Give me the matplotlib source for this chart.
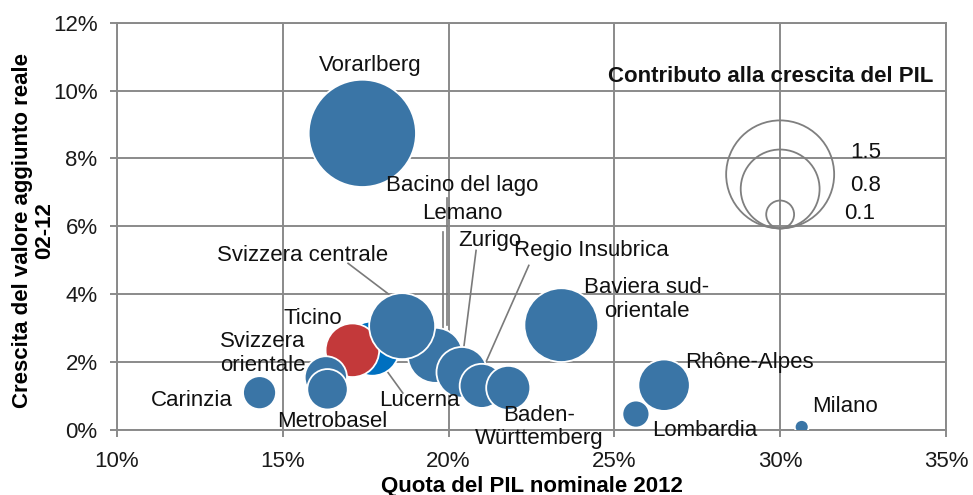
import matplotlib
matplotlib.use("Agg")
import matplotlib.pyplot as plt
from matplotlib.ticker import FuncFormatter, MultipleLocator
from matplotlib.transforms import offset_copy
import numpy as np

plt.rcParams['font.family'] = ['Liberation Sans', 'DejaVu Sans']

# data (drawing order = list order)
regioni = ["Lucerna", "Ticino", "Bacino del lago", "Lemano", "Svizzera centrale",
           "Zurigo", "Regio Insubrica", "Baden-Württemberg", "Svizzera orientale",
           "Metrobasel", "Carinzia", "Vorarlberg", "Baviera sud-orientale",
           "Rhône-Alpes", "Lombardia", "Milano"]
quota_pil = [17.7, 17.1, 19.6, 19.6, 18.6, 20.4, 21.0, 21.8, 16.3,
             16.35, 14.3, 17.4, 23.4, 26.5, 25.65, 30.65]          # % PIL nominale 2012
crescita_va = [2.4, 2.35, 2.2, 2.2, 3.06, 1.7, 1.3, 1.24, 1.55,
               1.2, 1.1, 8.74, 3.09, 1.32, 0.47, 0.09]             # % 02-12
contributo = [0.38, 0.37, 0.34, 0.39, 0.56, 0.33, 0.25, 0.25, 0.23,
              0.21, 0.14, 1.48, 0.70, 0.34, 0.094, 0.025]          # contributo alla crescita
legenda_valori = [1.5, 0.8, 0.1]

BLU = "#3a75a6"
colori = {"Ticino": "#c3393a", "Lucerna": "#0070c0"}
GRIGIO = "#8a8a8a"
K = 4031.0  # points^2 per unit of contribution

# label text, position (data coords), optional leader line start/end
etichette = {
    "Vorarlberg": ("Vorarlberg", 17.63, 10.74, None),
    "Bacino del lago": ("Bacino del lago", 20.40, 7.21, ((19.95, 6.85), (19.95, 3.1))),
    "Lemano": ("Lemano", 20.43, 6.38, ((19.83, 5.82), (19.83, 2.7))),
    "Zurigo": ("Zurigo", 21.25, 5.59, ((20.83, 5.29), (20.40, 1.97))),
    "Regio Insubrica": ("Regio Insubrica", 24.32, 5.29, ((22.42, 4.85), (20.86, 1.41))),
    "Svizzera centrale": ("Svizzera centrale", 15.61, 5.15, ((16.97, 4.91), (18.44, 3.82))),
    "Ticino": ("Ticino", 15.91, 3.29, None),
    "Svizzera orientale": ("Svizzera\norientale", 14.40, 2.26, None),
    "Carinzia": ("Carinzia", 12.26, 0.88, None),
    "Metrobasel": ("Metrobasel", 16.48, 0.24, None),
    "Lucerna": ("Lucerna", 19.11, 0.88, ((18.08, 1.82), (18.62, 1.09))),
    "Baden-Württemberg": ("Baden-\nWürttemberg", 22.73, 0.09, None),
    "Baviera sud-orientale": ("Baviera sud-\norientale", 25.98, 3.85, None),
    "Rhône-Alpes": ("Rhône-Alpes", 29.06, 2.0, None),
    "Lombardia": ("Lombardia", 27.73, 0.0, None),
    "Milano": ("Milano", 31.95, 0.68, None),
}

fig = plt.figure(figsize=(9.73, 4.95), dpi=100)
ax = fig.add_axes([0.1202, 0.1313, 0.852, 0.8228])

ax.set_xlim(10, 35)
ax.set_ylim(0, 12)
ax.xaxis.set_major_locator(MultipleLocator(5))
ax.yaxis.set_major_locator(MultipleLocator(2))
pct = FuncFormatter(lambda v, p: f"{v:.0f}%")
ax.xaxis.set_major_formatter(pct)
ax.yaxis.set_major_formatter(pct)
ax.grid(True, color=GRIGIO, lw=1.4, zorder=0)
ax.set_axisbelow(True)
for sp in ax.spines.values():
    sp.set_color(GRIGIO)
    sp.set_linewidth(1.4)
ax.tick_params(axis='both', length=5, width=1.4, color=GRIGIO,
               labelsize=16, labelcolor="#1a1a1a")
ax.tick_params(axis='x', pad=10)
ax.tick_params(axis='y', pad=9)

# leader lines
for nome in regioni:
    testo, tx, ty, linea = etichette[nome]
    if linea:
        (x0, y0), (x1, y1) = linea
        ax.plot([x0, x1], [y0, y1], color="#7a7a7a", lw=1.2, zorder=2)

cols = [colori.get(n, BLU) for n in regioni]
ax.scatter(quota_pil, crescita_va, s=np.array(contributo) * K, c=cols,
           edgecolors="white", linewidths=1.3, zorder=3)

for nome in regioni:
    testo, tx, ty, linea = etichette[nome]
    ax.text(tx, ty, testo, ha="center", va="center", fontsize=16,
            color="#111111", zorder=4, linespacing=1.15)

# size legend: circles resting on a common base
for v in legenda_valori:
    r_pt = np.sqrt(v * K) / 2
    tr = offset_copy(ax.transData, fig=fig, x=0, y=r_pt, units='points')
    ax.scatter([30.0], [5.94], s=v * K, facecolors="none", edgecolors="#7f7f7f",
               linewidths=1.3, transform=tr, zorder=5)
ax.text(32.1, 8.18, "1.5", fontsize=16, va="center", ha="left", color="#111111", zorder=6)
ax.text(32.1, 7.21, "0.8", fontsize=16, va="center", ha="left", color="#111111", zorder=6)
ax.text(31.92, 6.38, "0.1", fontsize=16, va="center", ha="left", color="#111111", zorder=6)
ax.text(29.7, 10.41, "Contributo alla crescita del PIL", fontsize=16, fontweight="bold",
        ha="center", va="center", color="#111111", zorder=6)

ax.set_xlabel("Quota del PIL nominale 2012", fontsize=16, fontweight="bold")
ax.xaxis.set_label_coords(0.5, -0.112)
ax.set_ylabel("Crescita del valore aggiunto reale\n02-12", fontsize=16,
              fontweight="bold", linespacing=1.1)
ax.yaxis.set_label_coords(-0.074, 0.49)

fig.savefig("out.png", dpi=100)
